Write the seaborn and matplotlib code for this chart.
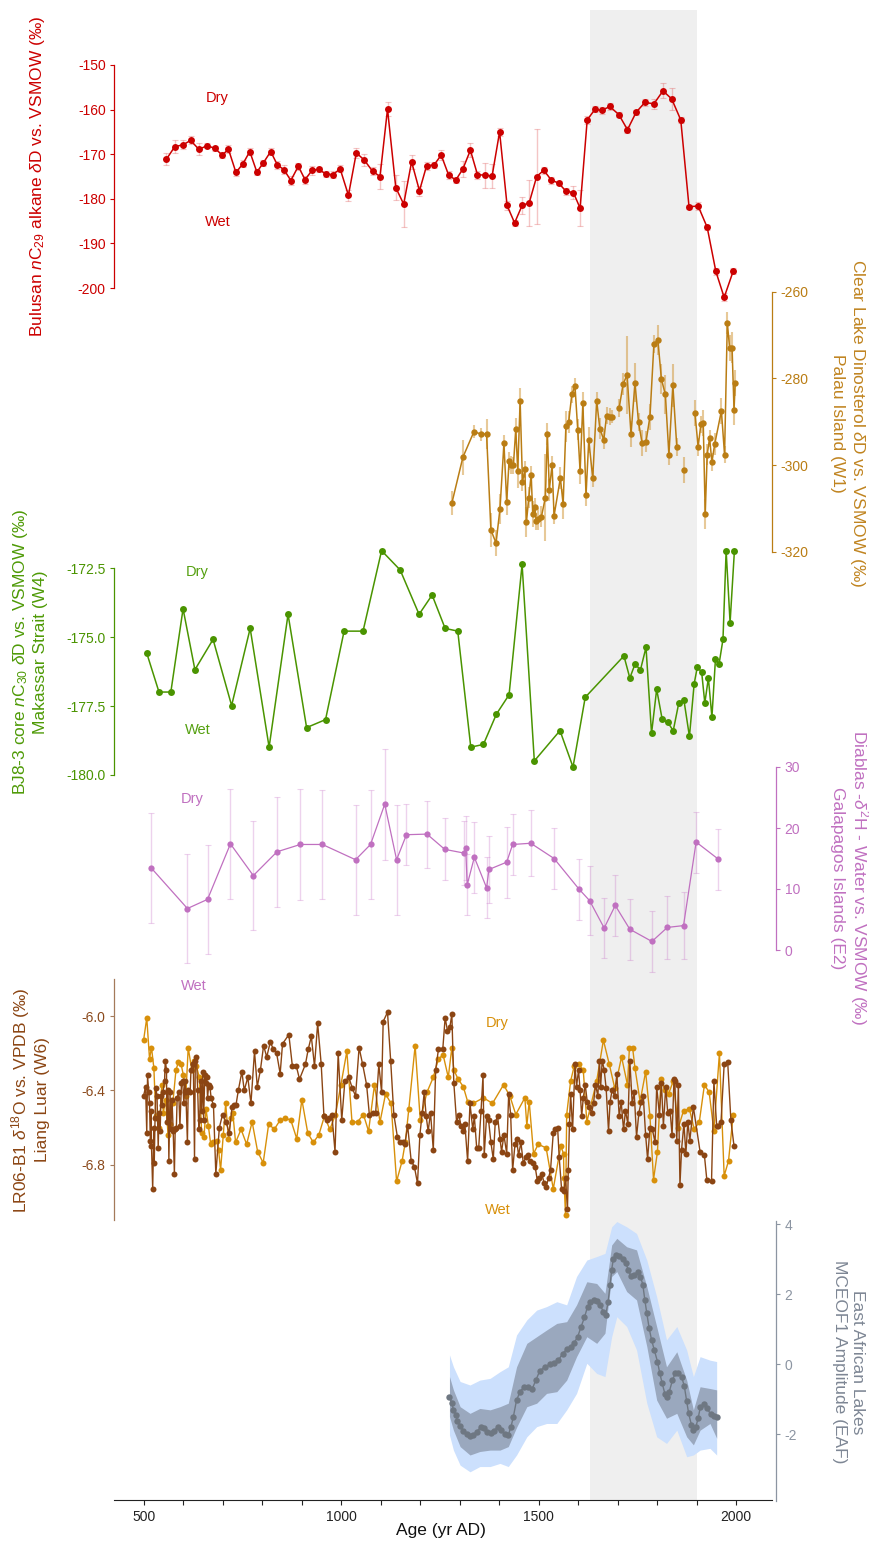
import numpy as np
import pandas as pd
import matplotlib
matplotlib.use("Agg")
import matplotlib.pyplot as plt
import seaborn as sns

sns.set_theme(style="ticks")
plt.rcParams["font.family"] = ["Liberation Sans", "DejaVu Sans"]
plt.rcParams["mathtext.fontset"] = "custom"
plt.rcParams["mathtext.rm"] = "Liberation Sans"
plt.rcParams["mathtext.it"] = "Liberation Sans:italic"
plt.rcParams["mathtext.bf"] = "Liberation Sans:bold"
plt.rcParams["axes.unicode_minus"] = False

# ---------------- data ----------------
# Bulusan nC29 alkane dD (permil) with 1-sigma errors
bul_years = [557, 578, 599, 618, 639, 660, 680, 698, 714, 733, 751, 768, 786, 802, 821, 838, 855, 872, 891, 908,
             926, 943, 960, 978, 997, 1018, 1038, 1058, 1079, 1098, 1117, 1138, 1158, 1178, 1198,
             1216, 1235, 1253, 1272, 1290, 1308, 1327, 1345, 1364, 1382, 1401, 1420, 1439, 1458, 1476, 1495,
             1513, 1532, 1551, 1569, 1588, 1605, 1623, 1643, 1660, 1680, 1703, 1725, 1747, 1769, 1792, 1815,
             1837, 1860, 1881, 1904, 1927, 1949, 1970, 1993]
bul_dD = [-171.1, -168.3, -167.9, -166.9, -168.9, -168.1, -168.7, -170.2, -168.9, -174.1,
          -172.1, -169.4, -174.0, -172.0, -169.4, -172.4, -173.5, -175.9, -172.7, -175.7,
          -173.6, -173.4, -174.4, -174.6, -173.3, -179.2, -169.7, -171.3, -173.8, -175.0,
          -159.9, -177.5, -181.2, -171.7, -178.2,
          -172.6, -172.4, -170.2, -174.7, -175.8, -173.3, -169.1, -174.6, -174.7, -174.9,
          -165.0, -181.5, -185.4, -181.5, -180.9, -175.0, -173.6, -175.8, -176.5, -178.3,
          -178.6, -182.1, -162.3, -159.9, -160.2, -159.3, -161.1, -164.5, -160.6, -158.4,
          -158.7, -155.8, -157.6, -162.3, -181.8, -181.6, -186.4, -196.3, -202.1, -196.2]
bul_err = [1.3, 1.5, 1.0, 0.9, 1.3, 0.6, 0.6, 0.6, 0.9, 0.8, 0.7, 0.8, 0.6, 0.6, 0.8, 0.9, 1.0, 1.0, 0.8, 0.9,
           1.0, 0.6, 0.6, 0.8, 0.8, 1.2, 1.1, 1.4, 0.9, 2.8, 1.5, 2.8, 5.1, 1.6, 1.1,
           0.9, 0.6, 1.1, 0.9, 0.6, 1.7, 1.5, 0.9, 2.8, 2.7, 0.9, 1.0, 0.6, 1.8, 5.2, 10.6,
           0.8, 0.8, 0.5, 0.8, 1.4, 4.1, 0.9, 0.6, 0.7, 0.8, 0.5, 0.8, 0.6, 0.8, 1.1, 1.7,
           2.5, 0.6, 0.5, 0.8, 0.5, 0.8, 0.9, 0.6]

# Clear Lake dinosterol dD (permil), Palau
pal_years = [1280, 1308, 1336, 1355, 1368, 1379, 1392, 1402, 1412, 1419, 1425, 1431, 1436, 1442, 1447, 1453,
             1459, 1465, 1469, 1475, 1481, 1485, 1490, 1494, 1499, 1507, 1517, 1522, 1527, 1534, 1539, 1555,
             1562, 1569, 1576, 1584, 1592, 1599, 1605, 1612, 1620, 1627, 1637, 1647, 1655, 1665, 1672, 1680,
             1686, 1704, 1714, 1724, 1734, 1744, 1753, 1762, 1772, 1782, 1792, 1802, 1811, 1821, 1830, 1840,
             1850, 1869, 1896, 1904, 1911, 1917, 1922, 1927, 1933, 1939, 1946, 1963, 1971, 1978, 1984, 1990,
             1995, 1998]
pal_dD = [-308.8, -298.2, -292.3, -292.9, -292.8, -315.0, -318.0, -310.1, -295.0, -308.5,
          -299.1, -300.0, -300.1, -291.7, -301.3, -285.3, -303.9, -301.0, -313.2, -307.5,
          -302.2, -311.4, -309.7, -313.0, -312.5, -311.9, -307.5, -292.8, -305.7, -300.0,
          -311.7, -303.0, -309.0, -291.1, -290.1, -283.7, -281.8, -291.8, -301.4, -285.7,
          -306.9, -294.2, -303.1, -285.2, -291.6, -294.2, -288.6, -288.8, -288.9,
          -286.8, -281.3, -279.2, -292.9, -281.0, -290.1, -294.9, -294.6, -288.8, -272.1,
          -271.1, -280.2, -283.7, -297.6, -281.6, -295.8,
          -301.2,
          -288.0, -295.8, -290.6, -290.4, -311.3, -297.6, -293.8, -299.3, -295.2,
          -287.5, -297.6, -267.2, -273.1, -272.9, -287.2, -281.0]
pal_err = [2.7, 4.0, 1.5, 1.5, 3.5, 4.0, 3.0, 3.5, 2.0, 3.0,
           2.0, 2.0, 2.0, 2.5, 4.0, 3.0, 2.0, 2.0, 3.5, 2.5,
           2.0, 3.0, 2.0, 2.0, 2.5, 2.5, 10.0, 2.5, 2.5, 2.0,
           2.0, 2.5, 3.5, 3.5, 2.5, 2.0, 2.0, 2.5, 3.0, 2.5,
           2.5, 3.0, 2.0, 2.0, 2.5, 2.0, 2.0, 2.0, 1.5,
           2.0, 2.5, 9.0, 3.0, 4.5, 2.0, 3.0, 2.5, 3.0, 2.0,
           3.5, 3.5, 4.5, 2.5, 5.0, 2.0,
           3.0,
           3.0, 2.0, 2.0, 3.0, 3.5, 2.5, 2.0, 2.0, 2.5,
           3.0, 2.0, 2.5, 3.0, 3.5, 3.5, 3.0]
pal_gap_after = [1686, 1850, 1869]

# BJ8-3 core nC30 dD (permil), Makassar Strait
mak_years = [507, 538, 568, 599, 629, 675, 722, 769, 817, 865, 912, 960, 1007, 1055, 1102, 1149, 1197, 1230,
             1263, 1295, 1328, 1360, 1393, 1425, 1458, 1489, 1554, 1587, 1618, 1716, 1731, 1744, 1758, 1772,
             1786, 1799, 1813, 1827, 1841, 1855, 1868, 1882, 1894, 1902, 1913, 1921, 1930, 1939, 1948, 1957,
             1967, 1975, 1985, 1996]
mak_dD = [-175.58, -176.99, -176.99, -173.97, -176.18, -175.08, -177.48, -174.68, -178.99, -174.17,
          -178.28, -177.99, -174.78, -174.78, -171.86, -172.56, -174.17, -173.47,
          -174.68, -174.78, -178.99, -178.89, -177.79, -177.09, -172.36, -179.49, -178.39, -179.71,
          -177.18, -175.68, -176.48, -175.98, -176.18, -175.37, -178.49, -176.89, -177.98, -178.09,
          -178.39, -177.39, -177.28, -178.60, -176.69, -176.08, -176.27, -177.39, -176.48, -177.90,
          -175.78, -175.98, -175.08, -171.86, -174.47, -171.86]

# El Junco / Diablas lake-water d2H (permil), Galapagos
gal_years = [519, 610, 661, 719, 777, 837, 896, 952, 1036, 1074, 1110, 1140, 1165, 1217, 1262, 1310, 1315,
             1319, 1337, 1368, 1374, 1419, 1434, 1480, 1539, 1602, 1629, 1666, 1694, 1731, 1787, 1826, 1867,
             1899, 1955]
gal_d2H = [13.4, 6.8, 8.3, 17.4, 12.2, 16.1, 17.3, 17.3, 14.8, 17.3, 23.9, 14.8, 18.9, 19.0, 16.5, 15.9,
           16.7, 10.7, 15.2, 10.2, 13.2, 14.4, 17.3, 17.5, 15.0, 10.0, 8.1, 3.6, 7.3, 3.4, 1.4, 3.7, 4.0,
           17.7, 14.9]
gal_err = [9.0, 9.0, 8.9, 9.0, 9.0, 9.0, 9.1, 9.0, 9.0, 9.0, 9.1, 9.0, 5.0, 5.5, 5.1, 5.3, 5.2, 5.0,
           5.8, 5.0, 5.5, 5.8, 5.0, 5.4, 5.0, 5.0, 5.6, 4.9, 5.0, 5.0, 5.0, 5.2, 5.5, 5.0, 5.0]

# Liang Luar speleothem d18O (permil VPDB): two records
luar_a_years = [499, 507, 514, 519, 525, 530, 539, 545, 549, 555, 561, 566, 573, 581, 587, 594, 600, 606, 612,
                621, 627, 633, 640, 646, 652, 657, 663, 669, 676, 684, 689, 694, 701, 707, 714, 720, 725, 732,
                746, 760, 774, 788, 802, 816, 830, 845, 858, 872, 887, 900, 915, 929, 943, 957, 971, 985, 999,
                1014, 1027, 1041, 1056, 1069, 1084, 1098, 1112, 1126, 1140, 1154, 1162, 1171, 1187, 1200, 1217,
                1233, 1246, 1258, 1271, 1280, 1285, 1296, 1309, 1320, 1334, 1360, 1383, 1411, 1427, 1442, 1465,
                1470, 1476, 1487, 1499, 1519, 1537, 1556, 1563, 1564, 1568, 1571, 1581, 1590, 1601, 1613, 1622,
                1647, 1664, 1679, 1693, 1710, 1725, 1730, 1738, 1744, 1757, 1771, 1782, 1791, 1801, 1810, 1820,
                1829, 1841, 1854, 1867, 1882, 1894, 1907, 1920, 1932, 1944, 1958, 1970, 1981, 1993]
luar_a_d18O = [-6.13, -6.01, -6.23, -6.17, -6.28, -6.54, -6.60, -6.37, -6.52, -6.45,
               -6.64, -6.58, -6.47, -6.29, -6.25, -6.26, -6.32, -6.43, -6.17, -6.29,
               -6.24, -6.27, -6.33, -6.63, -6.65, -6.50, -6.59, -6.69, -6.68, -6.67,
               -6.72, -6.83, -6.64, -6.47, -6.66, -6.55, -6.52, -6.68, -6.61, -6.69,
               -6.57, -6.73, -6.79, -6.58, -6.61, -6.56, -6.55, -6.56, -6.66, -6.45,
               -6.63, -6.68, -6.64, -6.54, -6.61, -6.53, -6.37, -6.19, -6.57, -6.57,
               -6.53, -6.62, -6.37, -6.57, -6.42, -6.47, -6.89, -6.78, -6.68, -6.50,
               -6.16, -6.56, -6.41, -6.33, -6.23, -6.21, -6.33, -6.17, -6.29, -6.34,
               -6.38, -6.46, -6.47, -6.44, -6.47, -6.37, -6.43, -6.53, -6.44, -6.59,
               -6.46, -6.74, -6.69, -6.71, -6.93, -6.70, -6.74, -6.87, -7.07, -6.53,
               -6.35, -6.27, -6.26, -6.29, -6.57, -6.35, -6.13, -6.26, -6.39, -6.22,
               -6.37, -6.17, -6.17, -6.28, -6.46, -6.30, -6.54, -6.88, -6.73, -6.34,
               -6.40, -6.42, -6.35, -6.60, -6.51, -6.50, -6.61, -6.57, -6.37, -6.41,
               -6.62, -6.20, -6.86, -6.78, -6.53]
luar_b_years = [499, 504, 507, 509, 512, 514, 516, 518, 519, 522, 525, 526, 528, 530, 533, 536, 538, 541, 543,
                546, 548, 552, 554, 557, 558, 561, 563, 566, 568, 571, 574, 577, 579, 582, 584, 588, 591, 595,
                598, 601, 604, 606, 610, 612, 617, 619, 623, 625, 628, 630, 633, 636, 639, 641, 644, 646, 649,
                651, 654, 656, 659, 661, 664, 667, 670, 676, 682, 691, 699, 708, 716, 723, 728, 733, 739, 748,
                754, 763, 771, 780, 787, 795, 803, 811, 820, 828, 836, 845, 851, 867, 876, 886, 894, 909, 916,
                924, 932, 940, 949, 956, 963, 970, 976, 984, 992, 1001, 1009, 1019, 1028, 1036, 1045, 1054,
                1064, 1071, 1079, 1087, 1095, 1102, 1106, 1117, 1125, 1133, 1142, 1149, 1155, 1161, 1168, 1177,
                1185, 1193, 1199, 1205, 1210, 1215, 1220, 1226, 1233, 1239, 1246,
                1257, 1263, 1269, 1275, 1280, 1285, 1292, 1298, 1303, 1309, 1313, 1320, 1326, 1333, 1337, 1343,
                1348, 1354, 1359, 1362, 1368, 1373, 1379, 1385, 1390, 1396, 1402, 1406, 1412, 1419, 1424, 1429,
                1434, 1440, 1444, 1449, 1455, 1461, 1468, 1473, 1478, 1485, 1491, 1497, 1502, 1508, 1514, 1519,
                1525, 1530, 1537, 1542, 1548, 1552, 1558, 1564, 1568, 1573, 1575, 1578, 1581, 1586, 1592, 1596,
                1601, 1605, 1609, 1613, 1618, 1623, 1628, 1634, 1639, 1644, 1650, 1654, 1657, 1661, 1666, 1671,
                1677, 1681, 1686, 1693, 1698, 1704, 1709, 1715, 1720, 1726, 1731, 1737, 1742, 1748, 1754, 1760,
                1765, 1771, 1776, 1782, 1788, 1795, 1799, 1806, 1811, 1816, 1822, 1827, 1833, 1838, 1843, 1845,
                1850, 1854, 1858, 1862, 1868, 1873, 1878, 1883, 1892, 1909, 1920, 1926, 1938, 1944, 1951, 1955,
                1962, 1970, 1979, 1987, 1995]
luar_b_d18O = [-6.43, -6.38, -6.63, -6.32, -6.41, -6.47, -6.67, -6.51, -6.70, -6.93,
               -6.60, -6.79, -6.55, -6.39, -6.43, -6.71, -6.52, -6.62, -6.43, -6.48,
               -6.41, -6.35, -6.24, -6.29, -6.57, -6.40, -6.78, -6.41, -6.61, -6.45,
               -6.62, -6.85, -6.61, -6.60, -6.44, -6.41, -6.59, -6.36, -6.35, -6.47,
               -6.35, -6.41, -6.68, -6.40, -6.41, -6.29, -6.26, -6.26, -6.77, -6.24,
               -6.22, -6.40, -6.61, -6.56, -6.35, -6.51, -6.30, -6.56, -6.32, -6.36,
               -6.33, -6.44, -6.37, -6.38, -6.44, -6.48, -6.85, -6.60, -6.53, -6.57,
               -6.63, -6.49, -6.48, -6.48, -6.40, -6.30, -6.40, -6.33, -6.47, -6.19,
               -6.38, -6.29, -6.16, -6.22, -6.14, -6.18, -6.20, -6.31, -6.15, -6.10,
               -6.27, -6.27, -6.34, -6.26, -6.18, -6.11, -6.27, -6.04, -6.26, -6.54,
               -6.56, -6.55, -6.53, -6.73, -6.20, -6.56, -6.35, -6.33, -6.39, -6.43,
               -6.17, -6.26, -6.37, -6.53, -6.52, -6.52, -6.26, -6.41, -6.03, -5.98,
               -6.24, -6.53, -6.65, -6.68, -6.68, -6.69, -6.59, -6.78, -6.81, -6.90,
               -6.64, -6.52, -6.41, -6.54, -6.62, -6.52, -6.72, -6.29, -6.18,
               -6.18, -6.01, -6.08, -6.06, -5.99, -6.36, -6.57, -6.53, -6.59, -6.62,
               -6.58, -6.78, -6.47, -6.61, -6.54, -6.71, -6.71, -6.51, -6.32, -6.75,
               -6.54, -6.56, -6.68, -6.77, -6.57, -6.54, -6.66, -6.73, -6.64, -6.74,
               -6.42, -6.53, -6.83, -6.69, -6.66, -6.75, -6.68, -6.79, -6.76, -6.75,
               -6.78, -6.79, -6.81, -6.89, -6.87, -6.85, -6.90, -6.92, -6.87, -6.83,
               -6.63, -6.61, -6.60, -6.76, -6.93, -6.94, -6.87, -7.04, -6.83, -6.58,
               -6.42, -6.61, -6.26, -6.38, -6.29, -6.40, -6.54, -6.44, -6.37, -6.46,
               -6.49, -6.52, -6.47, -6.37, -6.43, -6.24, -6.38, -6.24, -6.29, -6.39,
               -6.62, -6.46, -6.40, -6.43, -6.31, -6.54, -6.46, -6.61, -6.51, -6.58,
               -6.24, -6.47, -6.41, -6.65, -6.52, -6.46, -6.43, -6.64, -6.77, -6.60,
               -6.61, -6.68, -6.38, -6.53, -6.36, -6.59, -6.38, -6.52, -6.51, -6.64,
               -6.34, -6.35, -6.67, -6.37, -6.91, -6.72, -6.58, -6.74, -6.57, -6.67,
               -6.49, -6.73, -6.75, -6.88, -6.89, -6.35, -6.59, -6.59, -6.57, -6.26,
               -6.25, -6.56, -6.70]

# East African lakes MCEOF1 amplitude: median and uncertainty envelopes
eaf_years = [1274, 1280, 1284, 1290, 1294, 1301, 1309, 1318, 1326, 1334, 1343, 1353, 1361, 1370, 1378, 1387,
             1396, 1405, 1415, 1423, 1430, 1436, 1444, 1453, 1463, 1474, 1484, 1493, 1503, 1516, 1529, 1540,
             1550, 1561, 1571, 1581, 1589, 1599, 1607, 1616, 1624, 1630, 1639, 1647, 1655, 1664, 1670, 1676,
             1681, 1685, 1689, 1696, 1704, 1713, 1721, 1727, 1734, 1742, 1752, 1758, 1764, 1769, 1774, 1780,
             1786, 1793, 1801, 1807, 1813, 1820, 1824, 1831, 1839, 1846, 1854, 1862, 1869, 1875, 1880, 1887,
             1892, 1898, 1904, 1910, 1919, 1927, 1936, 1945, 1951]
eaf_amp = [-0.93, -1.12, -1.31, -1.46, -1.62, -1.77, -1.90, -2.00, -2.06, -2.03,
           -1.93, -1.81, -1.84, -1.93, -1.96, -1.90, -1.81, -1.89, -2.00, -2.03,
           -1.79, -1.50, -1.03, -0.79, -0.65, -0.65, -0.70, -0.46, -0.19, -0.08,
           -0.01, 0.04, 0.11, 0.30, 0.42, 0.50, 0.59, 0.78, 1.05, 1.33,
           1.64, 1.78, 1.83, 1.81, 1.69, 1.50, 1.40, 1.78, 2.26, 2.69,
           2.99, 3.11, 3.09, 2.99, 2.88, 2.69, 2.51, 2.54, 2.64, 2.50,
           2.26, 1.83, 1.45, 1.02, 0.69, 0.40, 0.07, -0.27, -0.55, -0.86,
           -0.93, -0.79, -0.46, -0.27, -0.25, -0.36, -0.63, -1.06, -1.41, -1.74,
           -1.89, -1.81, -1.55, -1.22, -1.14, -1.27, -1.44, -1.48, -1.52]
env_years = [1274, 1284, 1301, 1326, 1351, 1377, 1402, 1423, 1444, 1470, 1495, 1520, 1546, 1571, 1596, 1622,
             1647, 1668, 1685, 1698, 1723, 1748, 1774, 1799, 1824, 1850, 1875, 1892, 1909, 1934, 1951]
env95_hi = [0.26, -0.08, -0.50, -0.60, -0.46, -0.41, -0.22, -0.08, 0.83, 1.26, 1.54, 1.64, 1.78, 1.69, 2.50, 2.97,
            3.07, 3.16, 3.92, 4.07, 3.92, 3.73, 2.97, 1.92, 0.69, 1.07, 0.40, -0.36, 0.21, 0.11, 0.07]
env68_hi = [-0.36, -0.74, -1.22, -1.41, -1.27, -1.31, -1.22, -1.12, -0.08, 0.59, 0.78, 0.97, 1.16, 1.21, 1.69, 2.35,
            2.30, 2.02, 3.40, 3.59, 3.35, 3.26, 2.21, 1.07, -0.08, 0.35, -0.46, -1.31, -0.65, -0.70, -0.74]
env68_lo = [-1.50, -1.89, -2.36, -2.60, -2.50, -2.46, -2.46, -2.36, -1.81, -1.22, -1.12, -0.84, -0.79, -0.46, 0.21,
            0.78, 0.59, 0.88, 2.50, 2.64, 2.07, 1.83, 0.50, -1.03, -1.55, -1.41, -2.08, -2.31, -1.89, -1.70, -2.12]
env95_lo = [-2.03, -2.46, -2.89, -3.08, -2.93, -2.93, -2.84, -2.93, -2.60, -2.08, -1.79, -1.70, -1.70, -1.31, -0.84,
            0.02, -0.27, -0.36, 0.78, 1.35, 1.07, 0.40, -1.12, -2.08, -2.27, -1.89, -2.65, -2.60, -2.46, -2.41, -2.60]

# Little Ice Age interval highlighted across all records
lia_span = (1630, 1900)

# ---------------- layout ----------------
W, H = 870, 1545
fig = plt.figure(figsize=(W / 100, H / 100), dpi=100)
PX_L, PX_R, PX_T, PX_B = 114, 772, 10, 1500
X500, X2000 = 144, 736                      # pixel columns of AD 500 and AD 2000
kx = (X2000 - X500) / 1500.0
XLIM = (500 - (X500 - PX_L) / kx, 500 + (PX_R - X500) / kx)
RECT = [PX_L / W, 1 - PX_B / H, (PX_R - PX_L) / W, (PX_B - PX_T) / H]


def ylim_from(v1, p1, v2, p2):
    s = (p2 - p1) / (v1 - v2)
    return (v2 - (PX_B - p2) / s, v1 + (p1 - PX_T) / s)


def ftext(px, py, s, **kw):
    return fig.text(px / W, 1 - py / H, s, **kw)


# base axes: shaded interval and the common time axis
ax0 = fig.add_axes(RECT)
ax0.set_zorder(0)
ax0.set_xlim(XLIM)
ax0.set_ylim(0, 1)
ax0.axvspan(*lia_span, color="#EFEFEF", lw=0, zorder=0)
for s in ["top", "left", "right"]:
    ax0.spines[s].set_visible(False)
ax0.spines["bottom"].set_color("#222222")
ax0.spines["bottom"].set_linewidth(0.8)
ax0.set_yticks([])
ax0.set_xticks(np.arange(500, 2001, 100))
ax0.set_xticklabels([str(t) if t % 500 == 0 else "" for t in range(500, 2001, 100)])
ax0.tick_params(axis="x", length=3.5, width=0.8, colors="#222222", labelsize=10, pad=3.5)
ax0.set_facecolor("none")
ax0.grid(False)
ftext(441, 1531, "Age (yr AD)", ha="center", va="center", fontsize=12.5, color="#111111")


def panel(side, color, v1, p1, v2, p2, bounds, ticks, fmt, z, offset=0, labelcolor=None):
    ax = fig.add_axes(RECT)
    ax.set_zorder(z)
    ax.patch.set_alpha(0)
    for s in ["top", "bottom", "left", "right"]:
        ax.spines[s].set_visible(s == side)
    sp = ax.spines[side]
    sp.set_color(color)
    sp.set_linewidth(0.9)
    sp.set_bounds(*bounds)
    if offset:
        sp.set_position(("outward", offset))
    ax.xaxis.set_visible(False)
    ax.yaxis.set_ticks_position(side)
    ax.set_yticks(ticks)
    ax.set_yticklabels([fmt.format(t) for t in ticks])
    ax.tick_params(axis="y", colors=color, length=3, width=0.8, labelsize=10, pad=3)
    if labelcolor:
        for lab in ax.get_yticklabels():
            lab.set_color(labelcolor)
    ax.grid(False)
    ax._ylim_target = ylim_from(v1, p1, v2, p2)
    return ax


def finish(ax):
    ax.set_xlim(XLIM)
    ax.set_ylim(*ax._ylim_target)
    ax.set_xlabel("")
    ax.set_ylabel("")


# ---- Bulusan ----
RED = "#CC0000"
ax1 = panel("left", RED, -150, 65, -200, 288, (-200, -150), [-150, -160, -170, -180, -190, -200], "{:.0f}", 6)
ax1.errorbar(bul_years, bul_dD, yerr=bul_err, fmt="none", ecolor=(0.88, 0.35, 0.35, 0.35),
             elinewidth=1.0, capsize=2.2, capthick=0.8, zorder=1.5)
sns.lineplot(x=bul_years, y=bul_dD, ax=ax1, color=RED, marker="o", markersize=5, markeredgewidth=0,
             linewidth=1.1, estimator=None, sort=False, zorder=3)
finish(ax1)
ftext(38, 176, r"Bulusan $n$C$_{29}$ alkane $\delta$D vs. VSMOW (‰)", rotation=90,
      ha="center", va="center", fontsize=12.5, color=RED)
ftext(217, 98, "Dry", ha="center", va="center", fontsize=10.5, color=RED)
ftext(218, 222, "Wet", ha="center", va="center", fontsize=10.5, color=RED)

# ---- Palau ----
GOLD = "#BA7D14"
ax2 = panel("right", GOLD, -260, 291.7, -320, 551.7, (-320, -260), [-260, -280, -300, -320], "{:.0f}", 5)
seg = np.cumsum([0] + [1 if y in pal_gap_after else 0 for y in pal_years[:-1]])
pal_df = pd.DataFrame({"year": pal_years, "dD": pal_dD, "seg": seg})
ax2.errorbar(pal_years, pal_dD, yerr=pal_err, fmt="none", ecolor=(0.82, 0.58, 0.2, 0.5),
             elinewidth=1.5, capsize=0, zorder=1.5)
sns.lineplot(data=pal_df, x="year", y="dD", units="seg", estimator=None, sort=False, ax=ax2, color=GOLD,
             marker="o", markersize=4.6, markeredgewidth=0, linewidth=1.1, zorder=3)
finish(ax2)
ftext(849, 423, "Clear Lake Dinosterol $\\delta$D vs. VSMOW (‰)\nPalau Island (W1)", rotation=270,
      ha="center", va="center", multialignment="center", fontsize=12.5, color="#C08420", linespacing=1.25)

# ---- Makassar ----
GREEN = "#4A9400"
ax3 = panel("left", GREEN, -172.5, 568.3, -180.0, 775, (-180, -172.5), [-172.5, -175.0, -177.5, -180.0],
            "{:.1f}", 4)
sns.lineplot(x=mak_years, y=mak_dD, ax=ax3, color=GREEN, marker="o", markersize=5, markeredgewidth=0,
             linewidth=1.1, estimator=None, sort=False, zorder=3)
finish(ax3)
ftext(30, 652, "BJ8-3 core $n$C$_{30}$ $\\delta$D vs. VSMOW (‰)\nMakassar Strait (W4)", rotation=90,
      ha="center", va="center", multialignment="center", fontsize=12.5, color="#4E9A06", linespacing=1.25)
ftext(197, 572, "Dry", ha="center", va="center", fontsize=10.5, color="#55A010")
ftext(198, 730, "Wet", ha="center", va="center", fontsize=10.5, color="#55A010")

# ---- Galapagos ----
PURPLE = "#C070C0"
ax4 = panel("right", PURPLE, 30, 767, 0, 950, (0, 30), [30, 20, 10, 0], "{:.0f}", 3, offset=3)
ax4.errorbar(gal_years, gal_d2H, yerr=gal_err, fmt="none", ecolor=(0.80, 0.50, 0.80, 0.35),
             elinewidth=1.0, capsize=2.5, capthick=0.8, zorder=1.5)
sns.lineplot(x=gal_years, y=gal_d2H, ax=ax4, color=PURPLE, marker="o", markersize=4.5, markeredgewidth=0,
             linewidth=0.9, estimator=None, sort=False, zorder=3)
finish(ax4)
ftext(850, 878, "Diablas -$\\delta^{2}$H - Water vs. VSMOW (‰)\nGalapagos Islands (E2)", rotation=270,
      ha="center", va="center", multialignment="center", fontsize=12.5, color=PURPLE, linespacing=1.25)
ftext(192, 799, "Dry", ha="center", va="center", fontsize=10.5, color=PURPLE)
ftext(194, 986, "Wet", ha="center", va="center", fontsize=10.5, color=PURPLE)

# ---- Liang Luar ----
BROWN = "#8B4513"
ORANGE = "#D8900A"
ax5 = panel("left", "#A47A5A", -6.0, 1016, -6.8, 1164.7, (-7.1, -5.8), [-6.0, -6.4, -6.8], "{:.1f}", 2,
            labelcolor="#8B4A1C")
sns.lineplot(x=luar_a_years, y=luar_a_d18O, ax=ax5, color=ORANGE, marker="o", markersize=4.3,
             markeredgewidth=0, linewidth=1.0, estimator=None, sort=False, zorder=3)
sns.lineplot(x=luar_b_years, y=luar_b_d18O, ax=ax5, color=BROWN, marker="o", markersize=4.3,
             markeredgewidth=0, linewidth=1.0, estimator=None, sort=False, zorder=4)
finish(ax5)
ftext(30, 1100, "LR06-B1 $\\delta^{18}$O vs. VPDB (‰)\nLiang Luar (W6)", rotation=90,
      ha="center", va="center", multialignment="center", fontsize=12.5, color=BROWN, linespacing=1.25)
ftext(497, 1023, "Dry", ha="center", va="center", fontsize=10.5, color=ORANGE)
ftext(498, 1210, "Wet", ha="center", va="center", fontsize=10.5, color=ORANGE)

# ---- East Africa ----
SLATE = "#7D8694"
ax6 = panel("right", "#8C95A2", 4, 1224, -2, 1434, (-3.9, 4.1), [4, 2, 0, -2], "{:.0f}", 1, offset=3)
ax6.fill_between(env_years, env95_lo, env95_hi, color="#CCE0FD", lw=0, zorder=1)
ax6.fill_between(env_years, env68_lo, env68_hi, color="#9AA8BE", lw=0, zorder=2)
sns.lineplot(x=eaf_years, y=eaf_amp, ax=ax6, color="#6E7782", marker="o", markersize=4.6,
             markeredgewidth=0, linewidth=1.0, estimator=None, sort=False, zorder=3)
finish(ax6)
ftext(849, 1362, "East African Lakes\nMCEOF1 Amplitude (EAF)", rotation=270,
      ha="center", va="center", multialignment="center", fontsize=12.5, color=SLATE, linespacing=1.25)

fig.savefig("out.png", dpi=100)
